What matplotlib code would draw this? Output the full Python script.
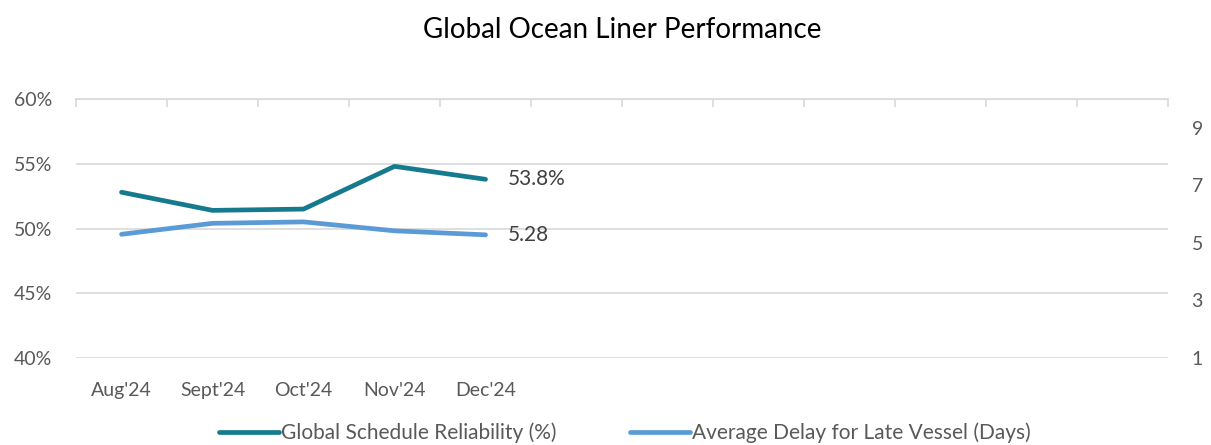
import matplotlib.pyplot as plt
import numpy as np

plt.rcParams['font.family'] = ['Lato', 'DejaVu Sans']

months = ["Aug'24", "Sept'24", "Oct'24", "Nov'24", "Dec'24"]
n_slots = 12
reliability = [52.8, 51.4, 51.5, 54.8, 53.8]
delay = [5.30, 5.68, 5.73, 5.42, 5.28]

teal = "#167a8e"
blue = "#5b9bd5"
grid = "#d9d9d9"
txt = "#595959"

fig = plt.figure(figsize=(12.11, 4.45), dpi=100)
ax = fig.add_axes([0.0628, 0.1955, 0.9017, 0.582])
ax2 = ax.twinx()

x = np.arange(len(months))
l1, = ax.plot(x, reliability, color=teal, lw=3.4, solid_capstyle="round", label="Global Schedule Reliability (%)")
l2, = ax2.plot(x, delay, color=blue, lw=3.4, solid_capstyle="round", label="Average Delay for Late Vessel (Days)")

ax.set_xlim(-0.5, n_slots - 0.5)
ax.set_ylim(40, 60)
ax.set_yticks([40, 45, 50, 55, 60])
ax.set_yticklabels([f"{v}%" for v in [40, 45, 50, 55, 60]])
ax2.set_ylim(1, 10)
ax2.set_yticks([1, 3, 5, 7, 9])

ax.set_xticks(x)
ax.set_xticklabels(months)
ax.set_xticks(np.arange(-0.5, n_slots, 1), minor=True)
ax.tick_params(axis="x", which="major", length=0, pad=17, labelsize=14, labelcolor=txt)
ax.tick_params(axis="x", which="minor", top=True, bottom=False, direction="in", length=6, color=grid, width=1.2)
ax.tick_params(axis="y", length=0, pad=17, labelsize=14, labelcolor=txt)
ax2.tick_params(axis="y", length=0, pad=17, labelsize=14, labelcolor=txt)

ax.grid(axis="y", color=grid, lw=1.2)
ax.set_axisbelow(True)
for a in (ax, ax2):
    for s in a.spines.values():
        s.set_visible(False)
ax.spines["top"].set_visible(True)
ax.spines["top"].set_color(grid)
ax.spines["top"].set_linewidth(1.2)

ax.annotate(f"{reliability[-1]}%", (x[-1], reliability[-1]), xytext=(16, 0), textcoords="offset points",
            va="center", ha="left", fontsize=15, color="#404040")
ax2.annotate(f"{delay[-1]}", (x[-1], delay[-1]), xytext=(16, 0), textcoords="offset points",
             va="center", ha="left", fontsize=15, color="#404040")

ax.set_title("Global Ocean Liner Performance", fontsize=20, color="black", pad=44)

fig.legend(handles=[l1, l2], loc="center", bbox_to_anchor=(0.516, 0.027), ncol=2, frameon=False,
           fontsize=15, handlelength=2.9, handletextpad=0.1, columnspacing=3.5, labelcolor=txt)

fig.savefig("out.png", dpi=100)
